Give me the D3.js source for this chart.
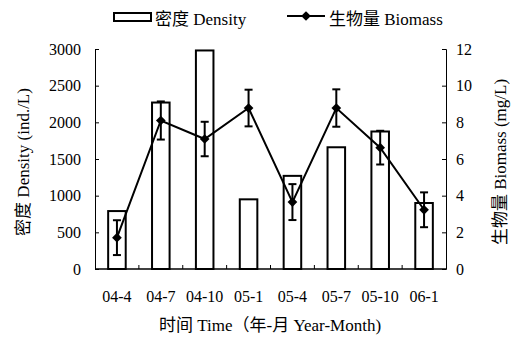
<!DOCTYPE html>
<html>
<head>
<meta charset="utf-8">
<script src="https://cdn.jsdelivr.net/npm/d3@7"></script>
<style>
body { margin: 0; background: #fff; }
svg text { font-family: "Liberation Serif", "Times New Roman", "DejaVu Serif", "Noto Sans CJK SC", serif !important; fill: #000; }
</style>
</head>
<body>
<div id="chart"></div>
<script>
/* data */
const months = ["04-4", "04-7", "04-10", "05-1", "05-4", "05-7", "05-10", "06-1"];
const density = [790, 2270, 2980, 950, 1270, 1660, 1875, 900];
const biomass = [1.71, 8.1, 7.09, 8.78, 3.65, 8.78, 6.62, 3.23];
const biomassErr = [0.95, 1.04, 0.94, 1.0, 0.98, 1.02, 0.92, 0.95];
const densityTicks = [0, 500, 1000, 1500, 2000, 2500, 3000];
const biomassTicks = [0, 2, 4, 6, 8, 10, 12];

/* svg size */
const width = 518;
const height = 343;
const margin = { top: 49, right: 72, bottom: 74, left: 95 };

const svg = d3.select("#chart").append("svg")
    .attr("width", width)
    .attr("height", height);

const x = d3.scaleBand()
    .domain(months)
    .range([margin.left, width - margin.right])
    .paddingInner(0.6)
    .paddingOuter(0.3);

/* outer band for the small x ticks between categories */
const xs = d3.scaleBand()
    .domain(months)
    .range([margin.left, width - margin.right]);

const yL = d3.scaleLinear()
    .domain([0, 3000])
    .range([height - margin.bottom, margin.top]);

const yR = d3.scaleLinear()
    .domain([0, 12])
    .range([height - margin.bottom, margin.top]);

/* bars */
svg.selectAll(".bar")
    .data(density)
    .enter().append("rect")
    .attr("class", "bar")
    .attr("x", (d, i) => x(months[i]))
    .attr("width", x.bandwidth())
    .attr("y", d => yL(d))
    .attr("height", d => yL(0) - yL(d))
    .attr("fill", "#fff")
    .attr("stroke", "#000")
    .attr("stroke-width", 2);

/* axes */
const leftAxis = d3.axisLeft(yL).tickValues(densityTicks).tickFormat(d3.format("d")).tickSize(-4).tickPadding(14);
const rightAxis = d3.axisRight(yR).tickValues(biomassTicks).tickFormat(d3.format("d")).tickSize(-4).tickPadding(10);

const gL = svg.append("g")
    .attr("transform", `translate(${margin.left},0)`)
    .call(leftAxis);
const gR = svg.append("g")
    .attr("transform", `translate(${width - margin.right},0)`)
    .call(rightAxis);

[gL, gR].forEach(g => {
    g.attr("font-family", null).attr("font-size", null);
    g.select(".domain").attr("stroke", "#000").attr("stroke-width", 1);
    g.selectAll(".tick line").attr("stroke", "#000");
    g.selectAll("text").style("font-size", "16px");
});

const gX = svg.append("g")
    .attr("transform", `translate(0,${height - margin.bottom})`);
gX.append("line")
    .attr("x1", margin.left).attr("x2", width - margin.right)
    .attr("stroke", "#000").attr("stroke-width", 1.5);
gX.selectAll(".xtick")
    .data(months.slice(1))
    .enter().append("line")
    .attr("x1", d => xs(d)).attr("x2", d => xs(d))
    .attr("y1", 0).attr("y2", -4)
    .attr("stroke", "#000");
gX.selectAll(".xlab")
    .data(months)
    .enter().append("text")
    .attr("x", d => x(d) + x.bandwidth() / 2)
    .attr("y", 33)
    .attr("text-anchor", "middle")
    .style("font-size", "16px")
    .text(d => d);

/* biomass line with error bars */
const cx = (d, i) => x(months[i]) + x.bandwidth() / 2;

svg.append("path")
    .datum(biomass)
    .attr("fill", "none")
    .attr("stroke", "#000")
    .attr("stroke-width", 2)
    .attr("d", d3.line().x(cx).y(d => yR(d)));

const err = svg.selectAll(".err")
    .data(biomass)
    .enter().append("g")
    .attr("class", "err")
    .attr("stroke", "#000")
    .attr("stroke-width", 2);

err.append("line")
    .attr("x1", cx).attr("x2", cx)
    .attr("y1", (d, i) => yR(d + biomassErr[i]))
    .attr("y2", (d, i) => yR(d - biomassErr[i]));
err.append("line")
    .attr("x1", (d, i) => cx(d, i) - 4).attr("x2", (d, i) => cx(d, i) + 4)
    .attr("y1", (d, i) => yR(d + biomassErr[i]))
    .attr("y2", (d, i) => yR(d + biomassErr[i]));
err.append("line")
    .attr("x1", (d, i) => cx(d, i) - 4).attr("x2", (d, i) => cx(d, i) + 4)
    .attr("y1", (d, i) => yR(d - biomassErr[i]))
    .attr("y2", (d, i) => yR(d - biomassErr[i]));

const diamond = d3.symbol().type(d3.symbolDiamond2).size(60);
svg.selectAll(".pt")
    .data(biomass)
    .enter().append("path")
    .attr("class", "pt")
    .attr("d", diamond)
    .attr("transform", (d, i) => `translate(${cx(d, i)},${yR(d)})`)
    .attr("fill", "#000");

/* axis titles */
svg.append("text")
    .attr("transform", "translate(29,162) rotate(-90)")
    .attr("text-anchor", "middle")
    .style("font-size", "17px")
    .text("密度 Density (ind./L)");

svg.append("text")
    .attr("transform", "translate(506,162) rotate(-90)")
    .attr("text-anchor", "middle")
    .style("font-size", "17px")
    .text("生物量 Biomass (mg/L)");

svg.append("text")
    .attr("x", 270)
    .attr("y", 331)
    .attr("text-anchor", "middle")
    .style("font-size", "17px")
    .text("时间 Time（年-月 Year-Month)");

/* legend */
const lg = svg.append("g");
lg.append("rect")
    .attr("x", 114).attr("y", 13).attr("width", 37).attr("height", 8)
    .attr("fill", "#fff").attr("stroke", "#000").attr("stroke-width", 2);
lg.append("text")
    .attr("x", 155).attr("y", 25)
    .style("font-size", "17px")
    .text("密度 Density");
lg.append("line")
    .attr("x1", 287).attr("x2", 325).attr("y1", 16).attr("y2", 16)
    .attr("stroke", "#000").attr("stroke-width", 2);
lg.append("path")
    .attr("d", diamond)
    .attr("transform", "translate(306,16)")
    .attr("fill", "#000");
lg.append("text")
    .attr("x", 329).attr("y", 25)
    .style("font-size", "17px")
    .text("生物量 Biomass");
</script>
</body>
</html>
